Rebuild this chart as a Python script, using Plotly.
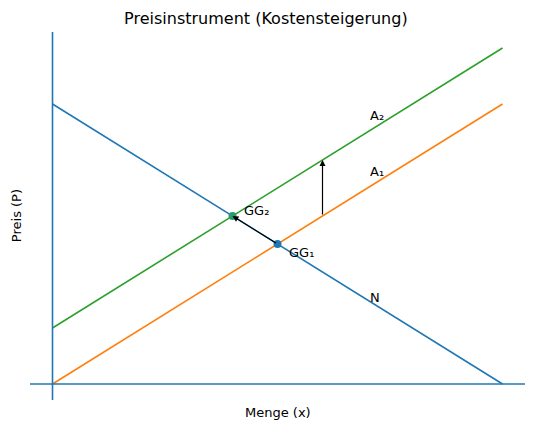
import plotly.graph_objects as go

x_vals = [0, 10]
nachfrage = [10, 0]
angebot1 = [0, 10]
angebot2 = [2, 12]
gg_x = [5, 4]
gg_y = [5, 6]
gg_colors = ["#1f77b4", "#2a9a70"]

fig = go.Figure()
fig.add_trace(go.Scatter(x=x_vals, y=nachfrage, mode="lines", line=dict(color="#1f77b4", width=1.6)))
fig.add_trace(go.Scatter(x=x_vals, y=angebot1, mode="lines", line=dict(color="#ff7f0e", width=1.6)))
fig.add_trace(go.Scatter(x=x_vals, y=angebot2, mode="lines", line=dict(color="#2ca02c", width=1.6)))
fig.add_trace(go.Scatter(x=gg_x, y=gg_y, mode="markers", marker=dict(color=gg_colors, size=8)))

font = dict(family="DejaVu Sans", size=13, color="black")
fig.add_shape(type="line", x0=-0.5, x1=10.5, y0=0, y1=0, line=dict(color="#1f77b4", width=1.6))
fig.add_shape(type="line", x0=0, x1=0, y0=-0.57, y1=12.57, line=dict(color="#1f77b4", width=1.6))

for t, (x, y) in {"A₂": (7, 9.6), "A₁": (7, 7.6), "N": (7, 3.1), "GG₂": (4.2, 6.2), "GG₁": (5.2, 4.7)}.items():
    fig.add_annotation(x=x, y=y, text=t, showarrow=False, xanchor="left", yanchor="middle", font=font)

fig.add_annotation(x=4, y=6, ax=5, ay=5, axref="x", ayref="y", text="", showarrow=True,
                   arrowhead=2, arrowsize=1, arrowwidth=1.2, arrowcolor="black", standoff=0)
fig.add_annotation(x=6, y=8, ax=6, ay=6, axref="x", ayref="y", text="", showarrow=True,
                   arrowhead=2, arrowsize=1, arrowwidth=1.2, arrowcolor="black", standoff=0)

fig.add_annotation(x=0.5, y=-0.035, xref="paper", yref="paper", text="Menge (x)", showarrow=False,
                   yanchor="middle", font=font)
fig.add_annotation(x=-0.028, y=0.5, xref="paper", yref="paper", text="Preis (P)", textangle=-90,
                   showarrow=False, xanchor="center", font=font)

fig.update_layout(
    width=535, height=431, margin=dict(l=22, r=18, t=24, b=39),
    plot_bgcolor="white", paper_bgcolor="white", showlegend=False,
    title=dict(text="Preisinstrument (Kostensteigerung)", x=0.482, xanchor="center", y=0.977,
               yanchor="middle", font=dict(family="DejaVu Sans", size=16, color="black")),
    xaxis=dict(range=[-0.5, 10.5], visible=False),
    yaxis=dict(range=[-0.57, 12.57], visible=False),
)
fig.write_html("out.html")
